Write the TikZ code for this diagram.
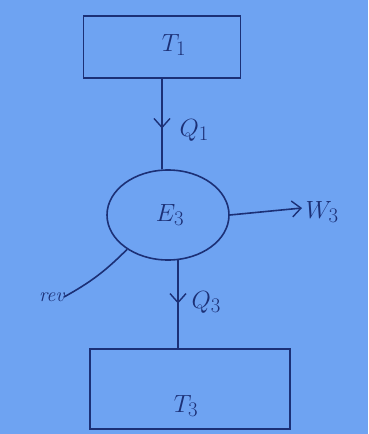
\documentclass[tikz,border=0pt]{standalone}
\usetikzlibrary{decorations.markings,arrows.meta,shapes.geometric}
\definecolor{paper}{RGB}{110,163,242}
\definecolor{ink}{RGB}{28,48,118}
\begin{document}
\begin{tikzpicture}[x=1pt,y=-1pt,
  ink/.style={draw=ink,line width=1.6pt},
  tbox/.style={ink,rectangle,inner sep=0pt,text=ink},
  lbl/.style={text=ink,font=\fontsize{30}{34}\selectfont},
  midarrow/.style={ink,postaction={decorate},decoration={markings,
     mark=at position #1 with {\arrow{Straight Barb[length=9pt,width=16pt,line width=1.4pt]}}}}]
\fill[paper] (0,0) rectangle (368,434);
\useasboundingbox (0,0) rectangle (368,434);
% boxes
\node[tbox,minimum width=157pt,minimum height=62pt] (t1) at (162,47) {};
\node[lbl] at (174,45) {$T_1$};
\node[tbox,minimum width=200pt,minimum height=80pt] (t3) at (190,389) {};
\node[lbl] at (186,406) {$T_3$};
% circle
\node[ink,ellipse,minimum width=122pt,minimum height=90pt] (e) at (168,215) {};
\node[lbl] at (170,215) {$E_3$};
% connectors
\draw[midarrow=0.55] (t1.south -| 162,0) -- (e.north -| 162,0);
\node[lbl,anchor=west] (q1) at (176,130) {$Q_1$};
\draw[midarrow=0.5] (178,259) -- (t3.north -| 178,0);
\node[lbl,anchor=west] (q3) at (188,302) {$Q_3$};
\coordinate (wend) at (302,208);
\draw[ink,-{Straight Barb[length=9pt,width=16pt,line width=1.4pt]}] (e.east) -- (wend);
\node[lbl,anchor=west] (w3) at (302,212) {$W_3$};
\coordinate (rend) at (64,297);
\draw[ink] (e.-140) to[bend left=8] (rend);
\node[text=ink,font=\fontsize{20}{22}\selectfont\itshape,anchor=east] (rv) at (68,297) {rev};
\end{tikzpicture}
\end{document}
